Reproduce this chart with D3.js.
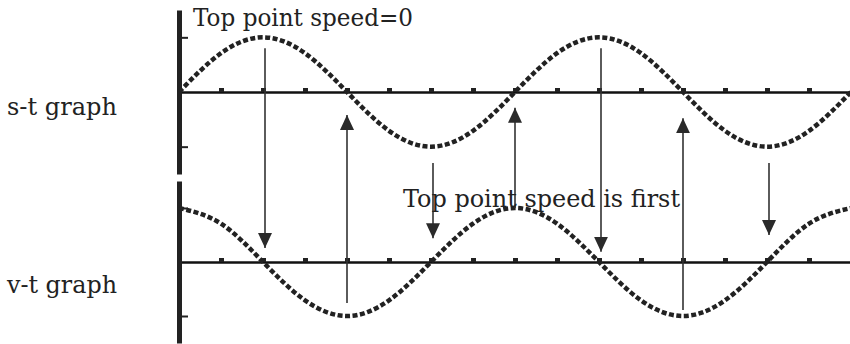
<!DOCTYPE html>
<html>
<head>
<meta charset="utf-8">
<script src="https://cdn.jsdelivr.net/npm/d3@7"></script>
<style>
  body { margin: 0; background: #fff; }
  text { font-family: "DejaVu Serif", serif; fill: #222; }
</style>
</head>
<body>
<svg id="chart"></svg>
<script>
const width = 850;
const height = 344;

// time in quarter periods, one point every eighth of a period
const tPoints = [0, 0.5, 1, 1.5, 2, 2.5, 3, 3.5, 4, 4.5, 5, 5.5, 6, 6.5, 7, 7.5, 8];
const sValues = [0, 0.71, 1, 0.71, 0, -0.71, -1, -0.71, 0, 0.71, 1, 0.71, 0, -0.71, -1, -0.71, 0];
const vValues = [1, 0.71, 0, -0.71, -1, -0.71, 0, 0.71, 1, 0.71, 0, -0.71, -1, -0.71, 0, 0.71, 1];
const tTicks = [0.5, 1, 1.5, 2, 2.5, 3, 3.5, 4, 4.5, 5, 5.5, 6, 6.5, 7, 7.5];
const yTicks = [-1, 1];

// arrows from s-t peaks down to v-t crossings
const downT = [1, 3, 5, 7];
const downFromS = [0.8, -1.3, 0.8, -1.3];
const downToV = [0.26, 0.44, 0.19, 0.5];
// arrows from v-t extremes up to s-t crossings
const upT = [2, 4, 6];
const upFromV = [-0.76, 1.0, -0.89];
const upToS = [-0.42, -0.29, -0.48];

const graphLabels = ["s-t graph", "v-t graph"];
const notes = ["Top point speed=0", "Top point speed is first"];

const svg = d3.select("#chart")
    .attr("width", width)
    .attr("height", height);

svg.append("defs").append("marker")
    .attr("id", "head")
    .attr("markerUnits", "userSpaceOnUse")
    .attr("viewBox", "0 0 15 14")
    .attr("refX", 15)
    .attr("refY", 7)
    .attr("markerWidth", 15)
    .attr("markerHeight", 14)
    .attr("orient", "auto")
    .append("path")
    .attr("d", "M0,0 L15,7 L0,14 Z")
    .attr("fill", "#2a2a2a");

const x = d3.scaleLinear().domain([0, 8]).range([179, 851]);
const yS = d3.scaleLinear().domain([-1.5, 1.5]).range([174, 10]);
const yV = d3.scaleLinear().domain([-1.5, 1.5]).range([343, 181]);

function drawGraph(y, values) {
    // time axis
    const xa = svg.append("g")
        .attr("transform", `translate(0,${y(0)})`)
        .call(d3.axisTop(x).tickValues(tTicks).tickSizeInner(4).tickSizeOuter(0).tickFormat(""));
    xa.select(".domain").attr("stroke", "#111").attr("stroke-width", 2.5);
    xa.selectAll(".tick line").attr("stroke", "#222").attr("stroke-width", 5);

    // vertical axis bar
    const ya = svg.append("g")
        .attr("transform", `translate(${x(0)},0)`)
        .call(d3.axisRight(y).tickValues(yTicks).tickSizeInner(9).tickSizeOuter(0).tickFormat(""));
    ya.select(".domain").attr("stroke", "#222").attr("stroke-width", 5);
    ya.selectAll(".tick line").attr("stroke", "#222").attr("stroke-width", 2);

    const line = d3.line()
        .x((d, i) => x(tPoints[i]))
        .y(d => y(d))
        .curve(d3.curveNatural);

    svg.append("path")
        .datum(values)
        .attr("d", line)
        .attr("fill", "none")
        .attr("stroke", "#222")
        .attr("stroke-width", 4.5)
        .attr("stroke-dasharray", "5 2.5");
}

drawGraph(yS, sValues);
drawGraph(yV, vValues);

// arrows
svg.append("g")
    .selectAll("line.down")
    .data(downT)
    .join("line")
    .attr("x1", d => x(d) + 2)
    .attr("x2", d => x(d) + 2)
    .attr("y1", (d, i) => yS(downFromS[i]))
    .attr("y2", (d, i) => yV(downToV[i]))
    .attr("stroke", "#333")
    .attr("stroke-width", 1.6)
    .attr("marker-end", "url(#head)");

svg.append("g")
    .selectAll("line.up")
    .data(upT)
    .join("line")
    .attr("x1", d => x(d))
    .attr("x2", d => x(d))
    .attr("y1", (d, i) => yV(upFromV[i]))
    .attr("y2", (d, i) => yS(upToS[i]))
    .attr("stroke", "#333")
    .attr("stroke-width", 1.6)
    .attr("marker-end", "url(#head)");

// labels
svg.selectAll("text.graphLabel")
    .data(graphLabels)
    .join("text")
    .attr("class", "graphLabel")
    .attr("x", 7)
    .attr("y", (d, i) => i === 0 ? 115 : 293)
    .attr("font-size", 24)
    .attr("textLength", 110)
    .attr("lengthAdjust", "spacingAndGlyphs")
    .text(d => d);

svg.selectAll("text.note")
    .data(notes)
    .join("text")
    .attr("class", "note")
    .attr("x", (d, i) => i === 0 ? 193 : 403)
    .attr("y", (d, i) => i === 0 ? 26 : 207)
    .attr("font-size", 25)
    .attr("textLength", (d, i) => i === 0 ? 220 : 277)
    .attr("lengthAdjust", "spacingAndGlyphs")
    .text(d => d);
</script>
</body>
</html>
